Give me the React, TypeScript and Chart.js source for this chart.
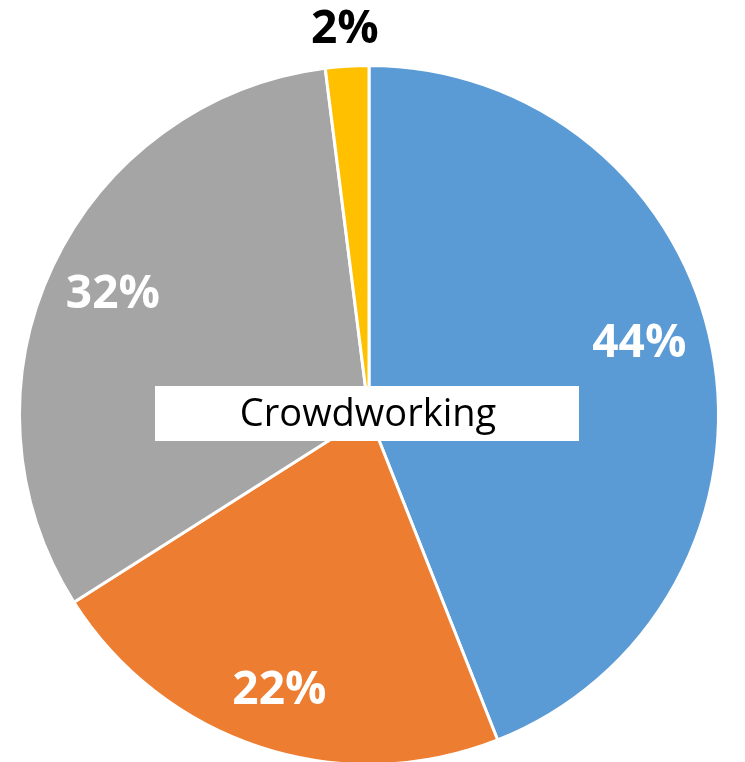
import React, { useEffect, useRef } from "react";
import { Chart, registerables } from "chart.js";

Chart.register(...registerables);

const categories = ["A", "B", "C", "D"];
const values = [44, 22, 32, 2];
const valueLabels = ["44%", "22%", "32%", "2%"];
const colors = ["#5B9BD5", "#ED7D31", "#A5A5A5", "#FFC000"];
const labelColors = ["#FFFFFF", "#FFFFFF", "#FFFFFF", "#000000"];
const centerTitle = "Crowdworking";

const labelAngleNudge = [-0.07, 0, 0, 0];
const labelRadiusFactor = [0.8, 0.83, 0.81, 0];

const labelPlugin = {
  id: "sliceLabels",
  afterDatasetsDraw(chart: any) {
    const ctx = chart.ctx;
    const meta = chart.getDatasetMeta(0);
    ctx.save();
    ctx.textAlign = "center";
    ctx.textBaseline = "middle";
    meta.data.forEach((arc: any, i: number) => {
      const { x, y, startAngle, endAngle, outerRadius } = arc.getProps(
        ["x", "y", "startAngle", "endAngle", "outerRadius"],
        true
      );
      const mid = (startAngle + endAngle) / 2 + labelAngleNudge[i];
      const outside = values[i] < 5;
      const r = outside ? outerRadius + 36 : outerRadius * labelRadiusFactor[i];
      ctx.font = "bold 46px 'Open Sans'";
      ctx.fillStyle = labelColors[i];
      ctx.fillText(valueLabels[i], x + Math.cos(mid) * r, y + Math.sin(mid) * r);
    });
    // center title box
    const arc0 = meta.data[0];
    const cx = arc0.x;
    const cy = arc0.y;
    ctx.fillStyle = "#FFFFFF";
    ctx.fillRect(cx - 214, cy - 29, 424, 55);
    ctx.fillStyle = "#000000";
    ctx.font = "38px 'Open Sans'";
    ctx.fillText(centerTitle, cx - 1, cy);
    ctx.restore();
  },
};

export default function App() {
  const ref = useRef<HTMLCanvasElement | null>(null);
  useEffect(() => {
    if (!ref.current) return;
    const chart = new Chart(ref.current, {
      type: "pie",
      data: {
        labels: categories,
        datasets: [
          {
            data: values,
            backgroundColor: colors,
            borderColor: "#FFFFFF",
            borderWidth: 3,
          },
        ],
      },
      options: {
        animation: false,
        responsive: false,
        layout: { padding: { left: 18, right: 25, top: 64, bottom: 14 } },
        plugins: {
          legend: { display: false },
          tooltip: { enabled: false },
          title: { display: false },
        },
      },
      plugins: [labelPlugin],
    });
    return () => chart.destroy();
  }, []);
  return (
    <div
      style={{
        position: "fixed",
        left: 0,
        top: 0,
        width: 745,
        height: 762,
        overflow: "hidden",
        background: "#FFFFFF",
      }}
    >
      <canvas ref={ref} width={745} height={780} style={{ display: "block" }} />
    </div>
  );
}
